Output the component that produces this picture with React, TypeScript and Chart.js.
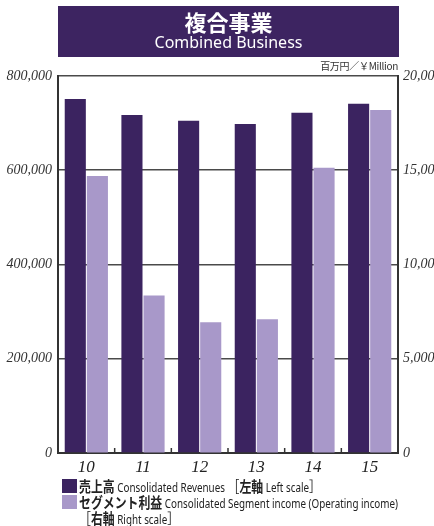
import React, { useEffect, useRef } from "react";
import { Chart, registerables } from "chart.js";

Chart.register(...registerables);

const years = ["10", "11", "12", "13", "14", "15"];
const revenues = [751000, 717000, 705000, 698000, 722000, 741000];
const segmentIncome = [14700, 8360, 6930, 7090, 15130, 18200];
const leftTicks = [0, 200000, 400000, 600000, 800000];
const rightTicks = [0, 5000, 10000, 15000, 20000];
const titleJa = "複合事業";
const titleEn = "Combined Business";
const unitLabel = "百万円／￥Million";
const legendRevenue = [
  [
    { t: "売上高", ja: true, b: true },
    { t: " Consolidated Revenues ", ja: false, b: false },
    { t: "［", ja: true, b: false },
    { t: "左軸", ja: true, b: true },
    { t: " Left scale", ja: false, b: false },
    { t: "］", ja: true, b: false },
  ],
];
const legendIncome = [
  [
    { t: "セグメント利益", ja: true, b: true },
    { t: " Consolidated Segment income (Operating income)", ja: false, b: false },
  ],
  [
    { t: "［", ja: true, b: false },
    { t: "右軸", ja: true, b: true },
    { t: " Right scale", ja: false, b: false },
    { t: "］", ja: true, b: false },
  ],
];

const DARK = "#3b2360";
const LIGHT = "#a898c9";
const SERIF = "'Liberation Serif', 'Times New Roman', serif";

const innerTicks = {
  id: "innerTicks",
  afterDraw(chart: any) {
    const x = chart.scales.x;
    const { ctx, chartArea } = chart;
    ctx.save();
    ctx.strokeStyle = "#333";
    ctx.lineWidth = 1.5;
    for (let i = 1; i < years.length; i++) {
      const px = (x.getPixelForValue(i - 1) + x.getPixelForValue(i)) / 2;
      ctx.beginPath();
      ctx.moveTo(px, chartArea.bottom);
      ctx.lineTo(px, chartArea.bottom - 5);
      ctx.stroke();
    }
    ctx.restore();
  },
};

const joinText = (lines: { t: string }[][]) => lines.map((l) => l.map((s) => s.t).join("")).join(" ");

export default function App() {
  const ref = useRef<HTMLCanvasElement>(null);
  useEffect(() => {
    document.body.style.margin = "0";
    const chart = new Chart(ref.current!, {
      type: "bar",
      data: {
        labels: years,
        datasets: [
          {
            label: joinText(legendRevenue),
            data: revenues,
            backgroundColor: DARK,
            yAxisID: "y",
            categoryPercentage: 0.78,
            barPercentage: 0.955,
          },
          {
            label: joinText(legendIncome),
            data: segmentIncome,
            backgroundColor: LIGHT,
            yAxisID: "y1",
            categoryPercentage: 0.78,
            barPercentage: 0.955,
          },
        ],
      },
      options: {
        animation: false,
        responsive: false,
        layout: { padding: { top: 76, left: 0, right: 0, bottom: 0 } },
        plugins: { legend: { display: false }, tooltip: { enabled: false }, title: { display: false } },
        scales: {
          x: {
            grid: { display: false, drawTicks: false },
            border: { display: true, color: "#333", width: 2 },
            ticks: {
              color: "#222",
              padding: 4,
              font: { family: SERIF, style: "italic", size: 17 },
            },
            afterFit: (s: any) => {
              s.height = 23;
            },
          },
          y: {
            position: "left",
            min: 0,
            max: leftTicks[leftTicks.length - 1],
            afterBuildTicks: (s: any) => {
              s.ticks = leftTicks.map((v) => ({ value: v }));
            },
            grid: { color: "#4a4a4a", lineWidth: 1.6, drawTicks: false },
            border: { display: true, color: "#333", width: 2 },
            ticks: {
              color: "#333",
              padding: 6,
              font: { family: SERIF, style: "italic", size: 14 },
              callback: (v: any) => Number(v).toLocaleString("en-US"),
            },
            afterFit: (s: any) => {
              s.width = 58;
            },
          },
          y1: {
            position: "right",
            min: 0,
            max: rightTicks[rightTicks.length - 1],
            afterBuildTicks: (s: any) => {
              s.ticks = rightTicks.map((v) => ({ value: v }));
            },
            grid: { drawOnChartArea: false, drawTicks: false },
            border: { display: true, color: "#333", width: 2 },
            ticks: {
              color: "#333",
              padding: 5,
              font: { family: SERIF, style: "italic", size: 14 },
              callback: (v: any) => Number(v).toLocaleString("en-US"),
            },
            afterFit: (s: any) => {
              s.width = 36;
            },
          },
        },
      },
      plugins: [innerTicks],
    });
    return () => chart.destroy();
  }, []);

  const legendRow = (color: string, lines: { t: string; ja: boolean; b: boolean }[][], top: number) => (
    <div style={{ position: "absolute", left: 62, top, display: "flex", alignItems: "flex-start" }}>
      <div style={{ width: 15, height: 14, background: color, marginTop: 1, flex: "none" }} />
      <div
        style={{
          marginLeft: 2,
          color: "#222",
          whiteSpace: "pre",
          transform: "scaleX(0.82)",
          transformOrigin: "left top",
        }}
      >
        {lines.map((line, i) => (
          <div key={i} style={{ height: 16, lineHeight: "16px" }}>
            {line.map((s, j) => (
              <span
                key={j}
                style={{
                  fontFamily: s.ja ? "'Noto Sans CJK JP', sans-serif" : "'Noto Sans', sans-serif",
                  fontSize: s.ja ? 14.5 : 12,
                  fontWeight: s.b ? 700 : 400,
                }}
              >
                {s.t}
              </span>
            ))}
          </div>
        ))}
      </div>
    </div>
  );

  return (
    <div style={{ position: "relative", width: 434, height: 526, overflow: "hidden", background: "#fff" }}>
      <canvas ref={ref} width={434} height={476} style={{ position: "absolute", left: 0, top: 0 }} />
      <div
        style={{
          position: "absolute",
          left: 58,
          top: 6,
          width: 341,
          height: 51,
          background: "#3d2461",
          color: "#fff",
          textAlign: "center",
          fontFamily: "'Noto Sans CJK JP', 'Noto Sans', sans-serif",
        }}
      >
        <div style={{ fontSize: 22, fontWeight: 700, lineHeight: "26px", marginTop: 2 }}>{titleJa}</div>
        <div style={{ fontSize: 16, lineHeight: "20px", fontFamily: "'Noto Sans', sans-serif", marginTop: -2 }}>
          {titleEn}
        </div>
      </div>
      <div
        style={{
          position: "absolute",
          right: 36,
          top: 60,
          fontSize: 10,
          lineHeight: "12px",
          color: "#333",
          fontFamily: "'Noto Sans CJK JP', sans-serif",
          whiteSpace: "nowrap",
          letterSpacing: -0.3,
        }}
      >
        {unitLabel}
      </div>
      {legendRow(DARK, legendRevenue, 478)}
      {legendRow(LIGHT, legendIncome, 494)}
    </div>
  );
}
